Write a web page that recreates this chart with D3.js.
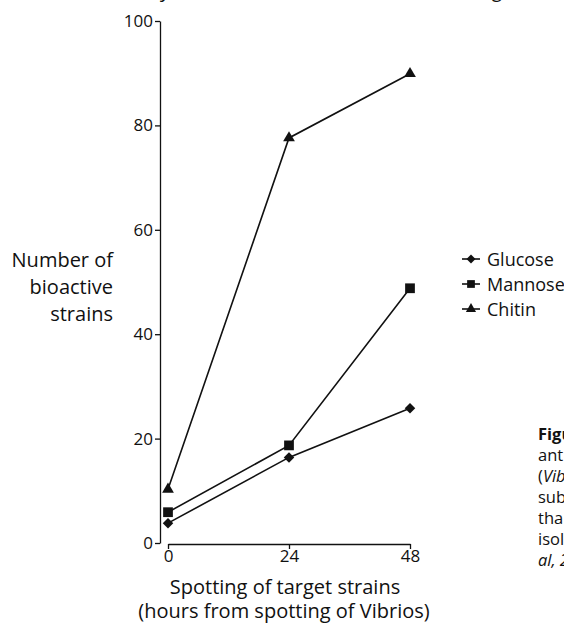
<!DOCTYPE html>
<html>
<head>
<meta charset="utf-8">
<script src="https://cdn.jsdelivr.net/npm/d3@7"></script>
<style>
  body { margin: 0; background: #fff; }
  svg { display: block; font-family: "Open Sans", sans-serif; }
</style>
</head>
<body>
<div id="chart"></div>
<script>
// Data
const hours = [0, 24, 48];
const glucose = [3.8, 16.4, 25.8];
const mannose = [5.9, 18.7, 48.8];
const chitin = [10.3, 77.6, 89.9];
const yTicks = [0, 20, 40, 60, 80, 100];
const seriesNames = ["Glucose", "Mannose", "Chitin"];
const captionLines = ["Figure", "antibacterial", "(Vibrio", "substrate", "than", "isolates", "al, 2013"];

const W = 564, H = 625;

const svg = d3.select("#chart")
    .append("svg")
    .attr("width", W)
    .attr("height", H);

// Scales
const xScale = d3.scaleLinear().domain([0, 48]).range([168, 410]);
const yScale = d3.scaleLinear().domain([0, 100]).range([543, 21]);

// Y axis (offset from x axis, Prism style)
const yAxis = svg.append("g")
    .attr("transform", "translate(160,0)")
    .call(d3.axisLeft(yScale).tickValues(yTicks).tickSize(5).tickSizeOuter(0).tickPadding(2));
yAxis.selectAll("text").style("font-size", "17px").style("font-family", "Open Sans").attr("fill", "#111");
yAxis.selectAll("path, line").attr("stroke", "#111").attr("stroke-width", 1.3);

// X axis
const xAxis = svg.append("g")
    .attr("transform", "translate(0,544)")
    .call(d3.axisBottom(xScale).tickValues(hours).tickSize(5).tickSizeOuter(0).tickPadding(1));
xAxis.selectAll("text").style("font-size", "17px").style("font-family", "Open Sans").attr("fill", "#111");
xAxis.selectAll("path, line").attr("stroke", "#111").attr("stroke-width", 1.3);

// Axis titles
const yTitle = svg.append("text")
    .attr("text-anchor", "end")
    .attr("fill", "#111")
    .style("font-size", "20px");
["Number of", "bioactive", "strains"].forEach((t, i) => {
    yTitle.append("tspan").attr("x", 113).attr("y", 267 + i * 27).text(t);
});

svg.append("text")
    .attr("x", 285).attr("y", 594)
    .attr("text-anchor", "middle")
    .attr("fill", "#111")
    .style("font-size", "20px")
    .text("Spotting of target strains");
svg.append("text")
    .attr("x", 284).attr("y", 618)
    .attr("text-anchor", "middle")
    .attr("fill", "#111")
    .style("font-size", "20px")
    .text("(hours from spotting of Vibrios)");

// Markers: diamond is a square turned 45 degrees
const symbolTypes = [d3.symbolSquare, d3.symbolSquare, d3.symbolTriangle];
const symbolRot = [45, 0, 0];
const symbolSizes = [55, 95, 60];
const legendSizes = [40, 60, 45];

const series = [glucose, mannose, chitin];
const line = d3.line()
    .x((d, i) => xScale(hours[i]))
    .y(d => yScale(d));

series.forEach((vals, s) => {
    svg.append("path")
        .datum(vals)
        .attr("d", line)
        .attr("fill", "none")
        .attr("stroke", "#111")
        .attr("stroke-width", 1.6);
    svg.selectAll(".pt" + s)
        .data(vals)
        .enter()
        .append("path")
        .attr("class", "pt" + s)
        .attr("d", d3.symbol().type(symbolTypes[s]).size(symbolSizes[s]))
        .attr("transform", (d, i) => `translate(${xScale(hours[i])},${yScale(d)}) rotate(${symbolRot[s]})`)
        .attr("fill", "#111");
});

// Legend
const legend = svg.append("g").attr("transform", "translate(471,259)");
seriesNames.forEach((name, i) => {
    const g = legend.append("g").attr("transform", `translate(0,${i * 25})`);
    g.append("line").attr("x1", -9).attr("x2", 9).attr("stroke", "#111").attr("stroke-width", 1.6);
    g.append("path")
        .attr("d", d3.symbol().type(symbolTypes[i]).size(legendSizes[i]))
        .attr("transform", `rotate(${symbolRot[i]})`)
        .attr("fill", "#111");
    g.append("text")
        .attr("x", 16).attr("y", 7)
        .attr("fill", "#111")
        .style("font-size", "18px")
        .text(name);
});

// Caption (cut off at right edge)
const cap = svg.append("text").attr("fill", "#111").style("font-size", "16.5px");
captionLines.forEach((t, i) => {
    const ts = cap.append("tspan").attr("x", 538).attr("y", 440 + i * 21).text(t);
    if (i === 0) ts.style("font-weight", "bold");
    if (i === 2) ts.text("(").append("tspan").style("font-style", "italic").text("Vibrio");
    if (i === 6) ts.style("font-style", "italic");
});

// Descenders of the title line cut off at the top
svg.append("text").attr("x", 162).attr("y", -3).attr("fill", "#111")
    .style("font-size", "20px").style("font-style", "italic").text("y");
svg.append("text").attr("x", 493).attr("y", -3).attr("fill", "#111")
    .style("font-size", "20px").style("font-style", "italic").text("g");
</script>
</body>
</html>
